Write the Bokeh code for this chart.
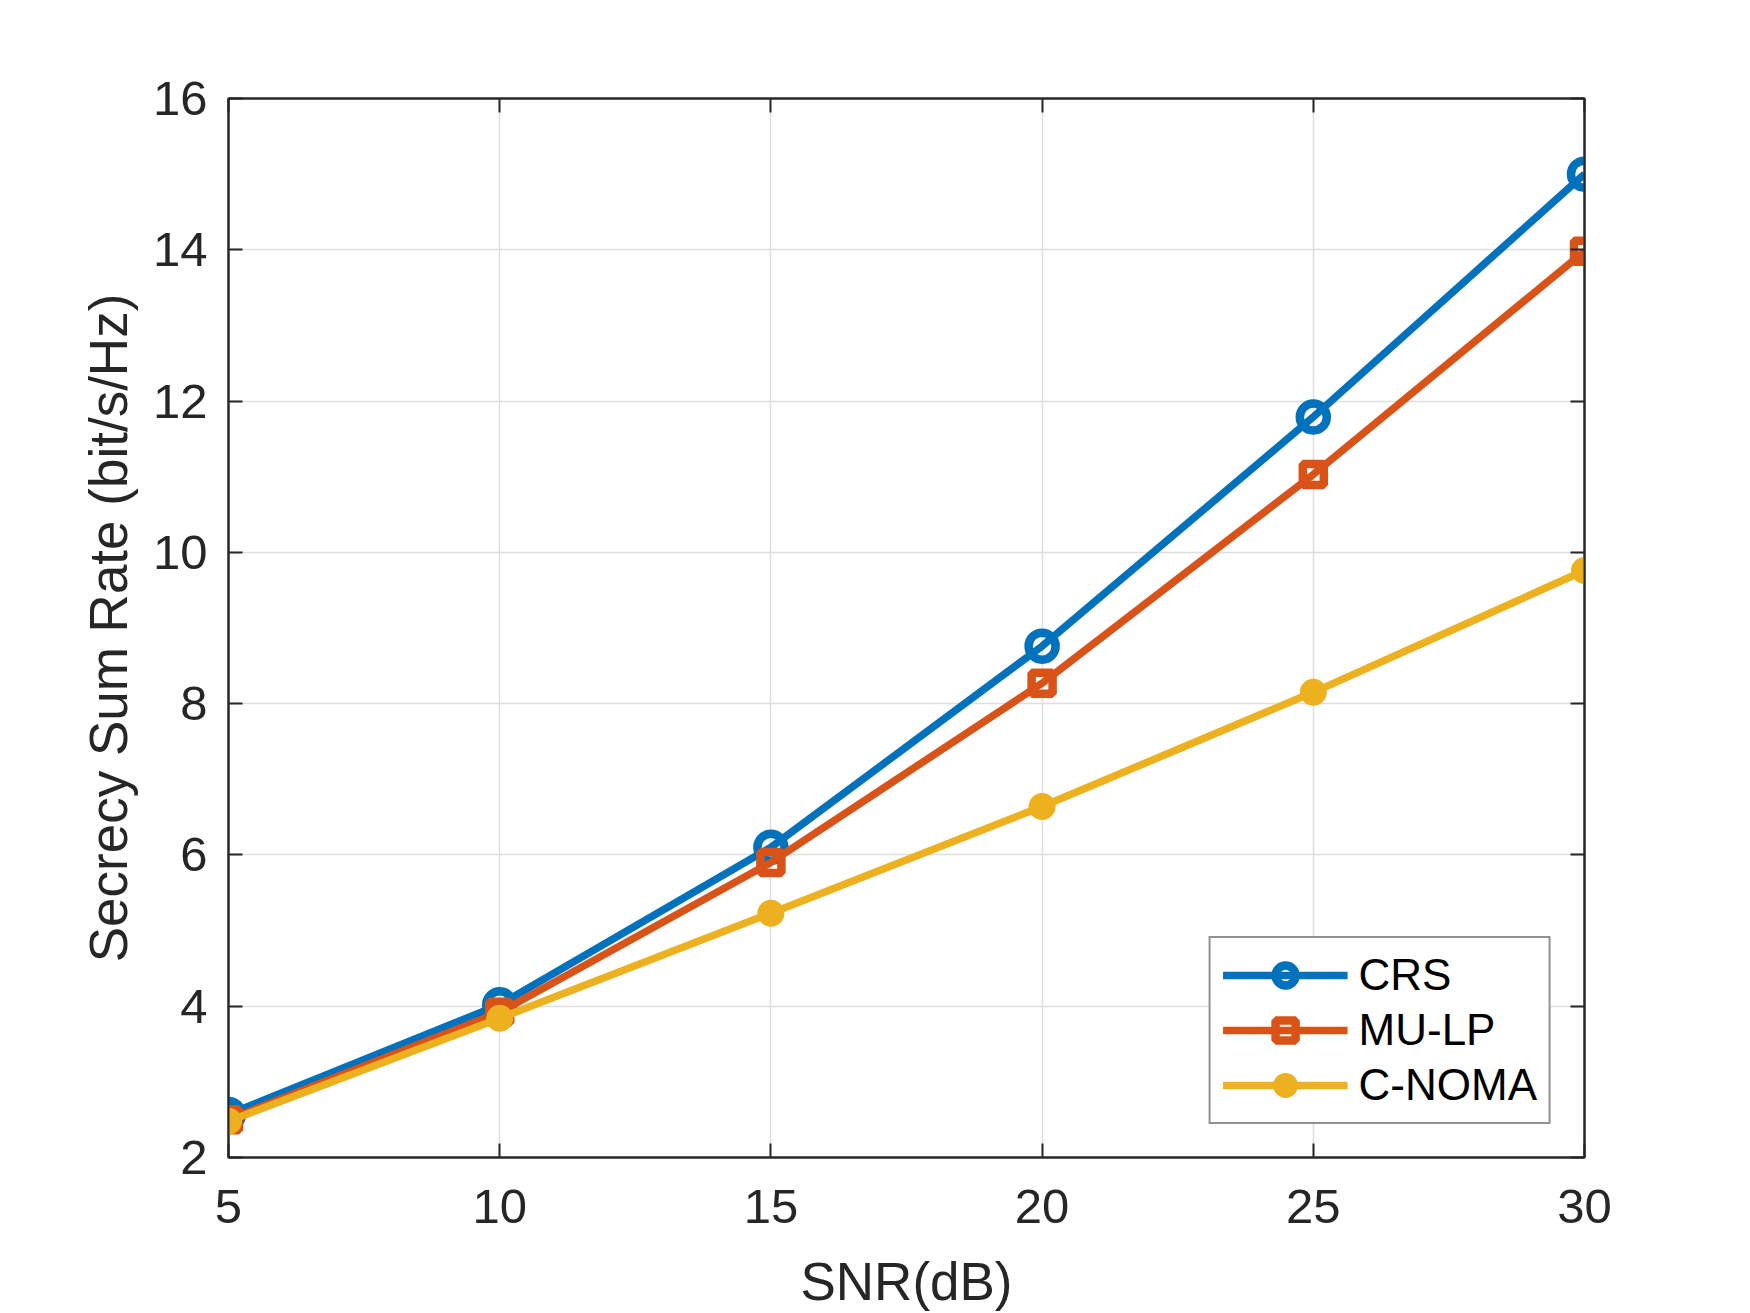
from bokeh.plotting import figure
from bokeh.models import Range1d, LinearAxis, FixedTicker, Legend, LegendItem
from bokeh.embed import file_html
from bokeh.resources import INLINE

snr = [5, 10, 15, 20, 25, 30]
crs = [2.57, 4.02, 6.10, 8.76, 11.79, 15.00]
mulp = [2.50, 3.92, 5.90, 8.27, 11.03, 13.98]
cnoma = [2.48, 3.84, 5.23, 6.64, 8.15, 9.76]
x_ticks = [5, 10, 15, 20, 25, 30]
y_ticks = [2, 4, 6, 8, 10, 12, 14, 16]
series_names = ["CRS", "MU-LP", "C-NOMA"]

FONT = "Liberation Sans"
DARK = "#262626"

p = figure(frame_width=1356, frame_height=1059,
           min_border_left=228, min_border_top=98,
           min_border_right=140, min_border_bottom=135,
           x_range=Range1d(5, 30), y_range=Range1d(2, 16),
           output_backend="svg", toolbar_location=None,
           background_fill_color="white", border_fill_color="white")

p.outline_line_color = DARK
p.outline_line_width = 2

for ax, ticks in ((p.xaxis[0], x_ticks), (p.yaxis[0], y_ticks)):
    ax.ticker = FixedTicker(ticks=ticks)
    ax.major_tick_in = 14
    ax.major_tick_out = 0
    ax.minor_tick_line_color = None
    ax.axis_line_color = DARK
    ax.axis_line_width = 2
    ax.major_tick_line_color = DARK
    ax.major_tick_line_width = 2
    ax.major_label_text_font = FONT
    ax.major_label_text_font_size = "49px"
    ax.major_label_text_color = DARK
    ax.axis_label_text_font = FONT
    ax.axis_label_text_font_size = "53px"
    ax.axis_label_text_font_style = "normal"
    ax.axis_label_text_color = DARK

p.xaxis.axis_label = "SNR(dB)"
p.yaxis.axis_label = "Secrecy Sum Rate (bit/s/Hz)"
p.xaxis.major_label_standoff = 32
p.yaxis.major_label_standoff = 21
p.xaxis.axis_label_standoff = 26
p.yaxis.axis_label_standoff = 12

# mirrored ticks on right and top
for loc, ticks in (("right", y_ticks), ("above", x_ticks)):
    ax = LinearAxis(ticker=FixedTicker(ticks=ticks))
    ax.major_tick_in = 14
    ax.major_tick_out = 0
    ax.minor_tick_line_color = None
    ax.axis_line_color = DARK
    ax.axis_line_width = 2
    ax.major_tick_line_color = DARK
    ax.major_tick_line_width = 2
    ax.major_label_text_font_size = "0px"
    ax.major_label_text_color = None
    ax.major_label_standoff = 0
    p.add_layout(ax, loc)

p.xgrid.ticker = FixedTicker(ticks=x_ticks)
p.ygrid.ticker = FixedTicker(ticks=y_ticks)
for g in (p.xgrid[0], p.ygrid[0]):
    g.grid_line_color = "#dedede"
    g.grid_line_width = 1.5

colors = ["#0072BD", "#D95319", "#EDB120"]
data = [crs, mulp, cnoma]
items = []
for name, col, ys in zip(series_names, colors, data):
    ln = p.line(snr, ys, line_color=col, line_width=7.5)
    if name == "CRS":
        sc = p.scatter(snr, ys, marker="circle", size=27, line_width=8.5,
                       line_color=col, fill_color=None)
    elif name == "MU-LP":
        sc = p.scatter(snr, ys, marker="square", size=21, line_width=8.5,
                       line_color=col, fill_color=None)
    else:
        sc = p.scatter(snr, ys, marker="circle", size=22, line_width=5,
                       line_color=col, fill_color=col)
    items.append(LegendItem(label=name, renderers=[ln, sc]))

legend = Legend(items=items, location="bottom_right")
legend.margin = 33
legend.padding = 12
legend.spacing = 5
legend.glyph_width = 125
legend.glyph_height = 50
legend.label_height = 50
legend.label_standoff = 11
legend.label_text_font = FONT
legend.label_text_font_size = "44px"
legend.label_text_color = "black"
legend.border_line_color = DARK
legend.border_line_width = 2
legend.background_fill_color = "white"
legend.background_fill_alpha = 1.0
p.add_layout(legend)

open("out.html", "w").write(file_html(p, INLINE))
